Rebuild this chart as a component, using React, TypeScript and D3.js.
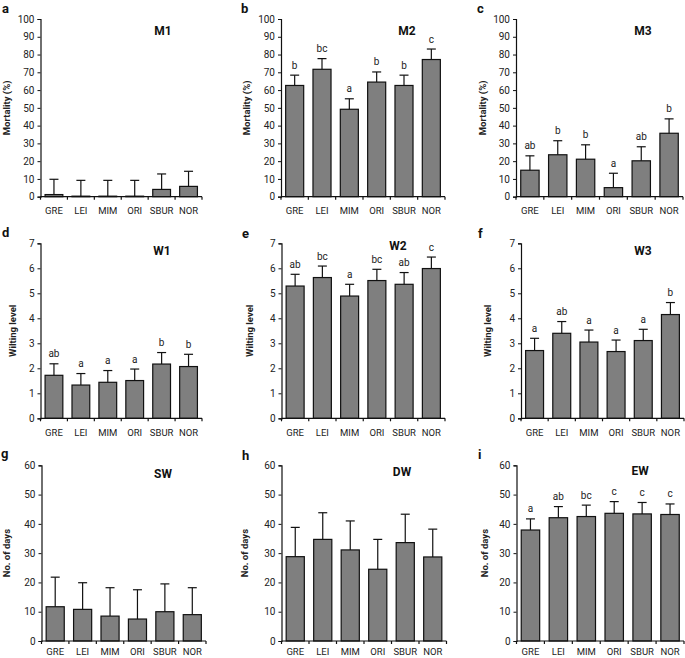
import React, { useEffect, useRef } from "react";
import * as d3 from "d3";

// groups on the x axis of every panel
const categories = ["GRE", "LEI", "MIM", "ORI", "SBUR", "NOR"];

// mortality (%)
const m1Mean = [1.2, 0.3, 0.3, 0.3, 4.1, 5.8];
const m1Err = [8.6, 8.9, 8.9, 8.9, 8.7, 8.5];
const m2Mean = [62.6, 71.7, 49.2, 64.5, 62.6, 77.2];
const m2Err = [5.8, 6.0, 5.9, 5.7, 5.8, 5.9];
const m2Sig = ["b", "bc", "a", "b", "b", "c"];
const m3Mean = [14.9, 23.6, 21.1, 5.1, 20.2, 35.7];
const m3Err = [8.1, 7.9, 8.1, 8.1, 7.9, 8.1];
const m3Sig = ["ab", "b", "b", "a", "ab", "b"];

// wilting level
const w1Mean = [1.72, 1.33, 1.44, 1.51, 2.17, 2.07];
const w1Err = [0.46, 0.46, 0.47, 0.46, 0.46, 0.49];
const w1Sig = ["ab", "a", "a", "a", "b", "b"];
const w2Mean = [5.29, 5.63, 4.89, 5.51, 5.36, 5.99];
const w2Err = [0.47, 0.46, 0.47, 0.45, 0.47, 0.46];
const w2Sig = ["ab", "bc", "a", "bc", "ab", "c"];
const w3Mean = [2.71, 3.4, 3.05, 2.67, 3.11, 4.15];
const w3Err = [0.49, 0.47, 0.48, 0.46, 0.45, 0.48];
const w3Sig = ["a", "ab", "a", "a", "a", "b"];

// no. of days
const swMean = [11.7, 10.8, 8.5, 7.5, 10.0, 9.0];
const swErr = [10.1, 9.1, 9.7, 10.0, 9.5, 9.2];
const dwMean = [28.8, 34.7, 31.1, 24.5, 33.6, 28.7];
const dwErr = [10.0, 9.1, 9.9, 10.2, 9.7, 9.5];
const ewMean = [37.9, 42.1, 42.5, 43.6, 43.4, 43.2];
const ewErr = [3.8, 3.8, 3.9, 4.0, 3.9, 3.6];
const ewSig = ["a", "ab", "bc", "c", "c", "c"];

const mortTicks = d3.range(0, 101, 10);
const wiltTicks = d3.range(0, 8, 1);
const daysTicks = d3.range(0, 61, 10);

const FONT = "Roboto, 'Liberation Sans', sans-serif";

type PanelSpec = {
    letter: string;
    title: string;
    yLabel: string;
    mean: number[];
    err: number[];
    sig?: string[];
    yMax: number;
    ticks: number[];
    // layout (pixels)
    left: number;
    right: number;
    top: number;
    bottom: number;
    catGap: number;
    letterPos: [number, number];
    titlePos: [number, number];
    yLabelX: number;
};

const panels: PanelSpec[] = [
    { letter: "a", title: "M1", yLabel: "Mortality (%)", mean: m1Mean, err: m1Err, yMax: 100, ticks: mortTicks,
      left: 40.5, right: 202, top: 19, bottom: 196.7, catGap: 17.5, letterPos: [2, 12.5], titlePos: [163, 32], yLabelX: 7 },
    { letter: "b", title: "M2", yLabel: "Mortality (%)", mean: m2Mean, err: m2Err, sig: m2Sig, yMax: 100, ticks: mortTicks,
      left: 281, right: 445, top: 19, bottom: 196.7, catGap: 17.5, letterPos: [241, 12.5], titlePos: [407, 32], yLabelX: 247 },
    { letter: "c", title: "M3", yLabel: "Mortality (%)", mean: m3Mean, err: m3Err, sig: m3Sig, yMax: 100, ticks: mortTicks,
      left: 516, right: 683, top: 19, bottom: 196.7, catGap: 17.5, letterPos: [477, 12.5], titlePos: [643, 32], yLabelX: 483 },
    { letter: "d", title: "W1", yLabel: "Wilting level", mean: w1Mean, err: w1Err, sig: w1Sig, yMax: 7, ticks: wiltTicks,
      left: 40.5, right: 202, top: 243.3, bottom: 418.3, catGap: 17.5, letterPos: [2, 237], titlePos: [162, 252], yLabelX: 13 },
    { letter: "e", title: "W2", yLabel: "Wilting level", mean: w2Mean, err: w2Err, sig: w2Sig, yMax: 7, ticks: wiltTicks,
      left: 281.5, right: 445, top: 243.3, bottom: 418.3, catGap: 17.5, letterPos: [242, 238], titlePos: [398, 247], yLabelX: 250 },
    { letter: "f", title: "W3", yLabel: "Wilting level", mean: w3Mean, err: w3Err, sig: w3Sig, yMax: 7, ticks: wiltTicks,
      left: 521, right: 684, top: 243.3, bottom: 418.3, catGap: 17.5, letterPos: [478, 238], titlePos: [643, 252], yLabelX: 488 },
    { letter: "g", title: "SW", yLabel: "No. of days", mean: swMean, err: swErr, yMax: 60, ticks: daysTicks,
      left: 41.5, right: 206, top: 465.3, bottom: 641, catGap: 13.6, letterPos: [1, 458], titlePos: [163, 475], yLabelX: 7 },
    { letter: "h", title: "DW", yLabel: "No. of days", mean: dwMean, err: dwErr, yMax: 60, ticks: daysTicks,
      left: 281.5, right: 446.5, top: 465.3, bottom: 641, catGap: 13.6, letterPos: [242, 460], titlePos: [402, 473], yLabelX: 245 },
    { letter: "i", title: "EW", yLabel: "No. of days", mean: ewMean, err: ewErr, sig: ewSig, yMax: 60, ticks: daysTicks,
      left: 516.5, right: 684, top: 465.3, bottom: 641, catGap: 13.6, letterPos: [478, 459], titlePos: [640, 472], yLabelX: 485 },
];

const drawPanel = (root: d3.Selection<SVGGElement, unknown, null, undefined>, p: PanelSpec) => {
    const g = root.append("g");

    const y = d3.scaleLinear().domain([0, p.yMax]).range([p.bottom, p.top]);
    const x = d3
        .scaleBand()
        .domain(categories)
        .range([p.left, p.right])
        .paddingInner(0.34)
        .paddingOuter(0.17);
    const step = x.step();

    // bars
    g.append("g")
        .selectAll("rect")
        .data(categories)
        .join("rect")
        .attr("x", (d) => x(d)!)
        .attr("y", (_, i) => y(p.mean[i]))
        .attr("width", x.bandwidth())
        .attr("height", (_, i) => p.bottom - y(p.mean[i]))
        .attr("fill", "#7f7f7f")
        .attr("stroke", "#111")
        .attr("stroke-width", 1.2);

    // error bars (upper only)
    const eb = g.append("g").attr("stroke", "#111").attr("stroke-width", 1.2);
    categories.forEach((c, i) => {
        const cx = x(c)! + x.bandwidth() / 2;
        const yTop = y(p.mean[i] + p.err[i]);
        eb.append("line").attr("x1", cx).attr("x2", cx).attr("y1", y(p.mean[i])).attr("y2", yTop);
        eb.append("line").attr("x1", cx - 4.5).attr("x2", cx + 4.5).attr("y1", yTop).attr("y2", yTop);
        if (p.sig) {
            g.append("text")
                .attr("x", cx)
                .attr("y", yTop - 6.5)
                .attr("text-anchor", "middle")
                .attr("font-family", FONT)
                .attr("font-size", 10)
                .attr("fill", "#222")
                .text(p.sig[i]);
        }
    });

    // y axis
    const ya = g
        .append("g")
        .attr("transform", `translate(${p.left},0)`)
        .call(d3.axisLeft(y).tickValues(p.ticks).tickSize(3).tickPadding(3).tickFormat(d3.format("d")));
    ya.select(".domain").attr("stroke", "#111").attr("stroke-width", 1.2);
    ya.selectAll(".tick line").attr("stroke", "#111");
    ya.selectAll(".tick text").attr("font-family", FONT).attr("font-size", 10).attr("fill", "#222");

    // x axis: baseline with ticks at group boundaries
    const xa = g.append("g").attr("stroke", "#111").attr("stroke-width", 1.2);
    xa.append("line").attr("x1", p.left).attr("x2", p.right).attr("y1", p.bottom).attr("y2", p.bottom);
    d3.range(categories.length + 1).forEach((k) => {
        const tx = p.left + k * step;
        xa.append("line").attr("x1", tx).attr("x2", tx).attr("y1", p.bottom).attr("y2", p.bottom + 3);
    });
    g.append("g")
        .selectAll("text")
        .data(categories)
        .join("text")
        .attr("x", (d) => x(d)! + x.bandwidth() / 2)
        .attr("y", p.bottom + p.catGap)
        .attr("text-anchor", "middle")
        .attr("font-family", FONT)
        .attr("font-size", 9.5)
        .attr("fill", "#222")
        .text((d) => d);

    // y label
    const cy = (p.top + p.bottom) / 2;
    g.append("text")
        .attr("transform", `translate(${p.yLabelX},${cy}) rotate(-90)`)
        .attr("text-anchor", "middle")
        .attr("dominant-baseline", "middle")
        .attr("font-family", FONT)
        .attr("font-weight", "bold")
        .attr("font-size", 9.5)
        .attr("fill", "#222")
        .text(p.yLabel);

    // panel title
    g.append("text")
        .attr("x", p.titlePos[0])
        .attr("y", p.titlePos[1])
        .attr("text-anchor", "middle")
        .attr("dominant-baseline", "middle")
        .attr("font-family", FONT)
        .attr("font-weight", "bold")
        .attr("font-size", 12)
        .attr("fill", "#111")
        .text(p.title);

    // panel letter
    g.append("text")
        .attr("x", p.letterPos[0])
        .attr("y", p.letterPos[1])
        .attr("font-family", FONT)
        .attr("font-weight", "bold")
        .attr("font-size", 13)
        .attr("fill", "#111")
        .text(p.letter);
};

const App = () => {
    const svgRef = useRef<SVGSVGElement>(null);
    const width = 685;
    const height = 658;

    useEffect(() => {
        const svg = d3.select(svgRef.current);
        svg.selectAll("*").remove();
        const root = svg.append("g");
        panels.forEach((p) => drawPanel(root as any, p));
    }, []);

    return (
        <svg
            ref={svgRef}
            width={width}
            height={height}
            style={{ position: "absolute", left: 0, top: 0, background: "#fff" }}
        />
    );
};

export default App;
